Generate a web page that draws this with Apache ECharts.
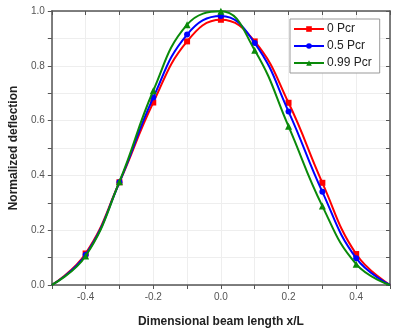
<!DOCTYPE html>
<html>
<head>
<meta charset="utf-8">
<script src="https://cdn.jsdelivr.net/npm/echarts@6/dist/echarts.min.js"></script>
<style>
html,body{margin:0;padding:0;background:#fff;}
#chart{width:393px;height:333px;}
</style>
</head>
<body>
<div id="chart"></div>
<script>
// x positions of the markers (plus the fixed ends)
var xs = [-0.5, -0.4, -0.3, -0.2, -0.1, 0, 0.1, 0.2, 0.3, 0.4, 0.5];
var names = ['0 Pcr', '0.5 Pcr', '0.99 Pcr'];
var p0 = [0, 0.115, 0.375, 0.666, 0.889, 0.968, 0.889, 0.665, 0.373, 0.113, 0];
var p05 = [0, 0.110, 0.375, 0.684, 0.914, 0.982, 0.883, 0.633, 0.340, 0.098, 0];
var p099 = [0, 0.106, 0.377, 0.709, 0.950, 0.999, 0.857, 0.579, 0.288, 0.076, 0];
var colors = ['#ff0000', '#0000ff', '#0a8a0a'];
var symbols = ['rect', 'circle', 'triangle'];

function pts(vals) {
	var out = [];
	xs.forEach(function(x, i) {
		var d = {value: [x, vals[i]]};
		if (i == 0 || i == xs.length - 1) d.symbol = 'none';
		out.push(d);
	});
	return out;
}

function mkSeries(idx, vals) {
	return {
		name: names[idx],
		type: 'line',
		smooth: 0.45,
		data: pts(vals),
		symbol: symbols[idx],
		symbolSize: idx == 2 ? 7 : 6,
		showAllSymbol: true,
		lineStyle: {color: colors[idx], width: 2},
		itemStyle: {color: colors[idx]},
		z: 3 + idx
	};
}

var tickLbl = {color: '#555', fontSize: 10, fontFamily: 'Liberation Sans'};

option = {
	animation: false,
	backgroundColor: '#fff',
	grid: {left: 51, right: 2, top: 11, bottom: 47},
	legend: {
		data: names,
		orient: 'vertical',
		left: 290,
		top: 19,
		width: 90,
		padding: [4, 8, 4, 3],
		itemWidth: 30,
		itemHeight: 7,
		itemGap: 5,
		borderColor: '#999',
		borderWidth: 1,
		backgroundColor: '#fff',
		textStyle: {color: '#222', fontSize: 12, fontFamily: 'Liberation Sans', padding: [0, 0, 0, -2]}
	},
	xAxis: [{
		type: 'value',
		min: -0.5,
		max: 0.5,
		interval: 0.1,
		name: 'Dimensional beam length x/L',
		nameLocation: 'middle',
		nameGap: 31,
		nameTextStyle: {fontWeight: 'bold', fontSize: 12, color: '#222', fontFamily: 'Liberation Sans'},
		axisLine: {onZero: false, lineStyle: {color: '#555', width: 1.5}},
		axisTick: {show: true, length: 4, lineStyle: {color: '#555'}},
		axisLabel: Object.assign({
			formatter: function(v) {
				var r = Math.round(v * 10);
				if (r % 2 != 0 || Math.abs(r) == 5) return '';
				return (r / 10).toFixed(1);
			},
			margin: 7
		}, tickLbl),
		splitLine: {show: true, lineStyle: {color: '#eeeeee', width: 1}}
	}, {
		type: 'value',
		position: 'top',
		min: -0.5,
		max: 0.5,
		interval: 0.1,
		axisLine: {show: true, onZero: false, lineStyle: {color: '#555', width: 1.5}},
		axisTick: {show: true, inside: true, length: 4, lineStyle: {color: '#555'}},
		axisLabel: {show: false},
		splitLine: {show: false}
	}],
	yAxis: [{
		type: 'value',
		min: 0,
		max: 1,
		interval: 0.1,
		name: 'Normalized deflection',
		nameLocation: 'middle',
		nameGap: 31,
		nameTextStyle: {fontWeight: 'bold', fontSize: 12, color: '#222', fontFamily: 'Liberation Sans'},
		axisLine: {show: true, onZero: false, lineStyle: {color: '#555', width: 1.5}},
		axisTick: {show: true, length: 4, lineStyle: {color: '#555'}},
		axisLabel: Object.assign({
			formatter: function(v) {
				var r = Math.round(v * 10);
				if (r % 2 != 0) return '';
				return (r / 10).toFixed(1);
			},
			margin: 7
		}, tickLbl),
		splitLine: {show: true, lineStyle: {color: '#eeeeee', width: 1}}
	}, {
		type: 'value',
		position: 'right',
		min: 0,
		max: 1,
		interval: 0.1,
		axisLine: {show: true, onZero: false, lineStyle: {color: '#555', width: 1.5}},
		axisTick: {show: true, inside: true, length: 4, lineStyle: {color: '#555'}},
		axisLabel: {show: false},
		splitLine: {show: false}
	}],
	series: [mkSeries(0, p0), mkSeries(1, p05), mkSeries(2, p099)]
};

var myChart = echarts.init(document.getElementById('chart'));
myChart.setOption(option);
</script>
</body>
</html>
